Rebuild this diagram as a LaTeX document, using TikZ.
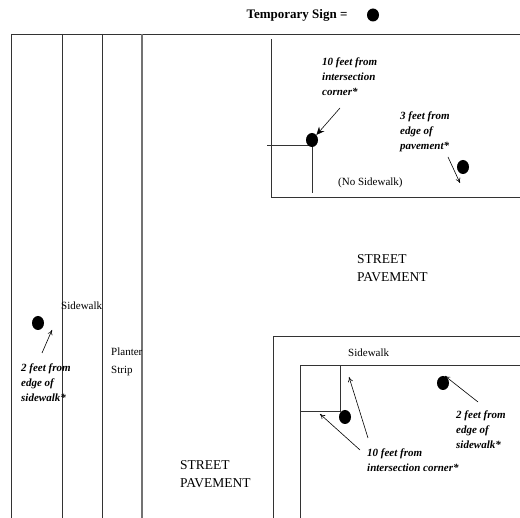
\documentclass[tikz,border=0pt]{standalone}
\usepackage{fontspec}
\setmainfont{Liberation Serif}
\usetikzlibrary{arrows.meta,shapes.geometric}

\begin{document}
\begin{tikzpicture}[x=1pt, y=-1pt,
		edge/.style={line width=0.8pt, color=black!80},
		sign/.style={ellipse, fill=black, inner sep=0pt, minimum width=12pt, minimum height=14pt},
		note/.style={anchor=west, align=left, inner sep=0pt, font=\fontsize{11}{15}\selectfont\bfseries\itshape},
		plain/.style={anchor=west, align=left, inner sep=0pt, font=\fontsize{11}{18}\selectfont},
		street/.style={anchor=west, align=left, inner sep=0pt, font=\fontsize{13.5}{18}\selectfont},
		pointer/.style={line width=0.6pt, -{To[length=5pt,width=5pt]}},
		solidpointer/.style={line width=0.6pt, -{Stealth[length=8pt,width=7pt]}}]
			%%%%% START %%%%%
			\useasboundingbox (0,0) rectangle (520,518);
			
			% legend
			\node[inner sep=0pt, font=\fontsize{13}{15}\selectfont\bfseries] (legend) at (297,15) {Temporary Sign =};
			\node[sign, minimum height=13pt] (legendsign) at (373,15) {};
			
			% left street edge, sidewalk and planter strip
			\draw[edge] (11,34) -- (520,34);
			\draw[edge] (11,34) -- (11,518);
			\draw[edge] (62,34) -- (62,518);
			\draw[edge] (102,34) -- (102,518);
			\draw[line width=1.1pt, color=black!55] (142,34) -- (142,518);
			
			% upper right block (no sidewalk)
			\draw[edge] (271,39) -- (271,197) -- (520,197);
			\draw[edge] (267,145) -- (312,145) -- (312,193);
			
			% lower right block
			\draw[edge] (273,518) -- (273,336) -- (520,336);
			\draw[edge] (300,518) -- (300,365) -- (520,365);
			\draw[edge] (300,411) -- (340,411) -- (340,365);
			
			% signs
			\node[sign] (cornersign) at (312,140) {};
			\node[sign] (pavesign) at (463,167) {};
			\node[sign] (walksign) at (38,323) {};
			\node[sign] (lowcornersign) at (345,417) {};
			\node[sign] (lowwalksign) at (443,383) {};
			
			% texts
			\node[note] (cornernote) at (322,77) {10 feet from\\intersection\\corner*};
			\node[note] (pavenote) at (400,132) {3 feet from\\edge of\\pavement*};
			\node[plain] (nowalk) at (338,183) {(No Sidewalk)};
			\node[street] (streetup) at (357,268) {STREET\\PAVEMENT};
			\node[street] (streetlow) at (180,474) {STREET\\PAVEMENT};
			\node[plain] (walkleft) at (61,306) {Sidewalk};
			\node[plain] (planter) at (111,362) {Planter\\Strip};
			\node[note] (walknote) at (21,383) {2 feet from\\edge of\\sidewalk*};
			\node[plain] (walkright) at (348,353) {Sidewalk};
			\node[note] (lowcornernote) at (367,460) {10 feet from\\intersection corner*};
			\node[note] (lowwalknote) at (456,430) {2 feet from\\edge of\\sidewalk*};
			
			% pointer ends
			\coordinate (ta) at (340,108);
			\coordinate (tb) at (448,157);
			\coordinate (hb) at (460,183);
			\coordinate (tc) at (42,353);
			\coordinate (hc) at (52,330);
			\coordinate (td) at (360,450);
			\coordinate (hd) at (320,414);
			\coordinate (te) at (368,438);
			\coordinate (he) at (349,377);
			\coordinate (tf) at (478,402);
			\coordinate (hf) at (445,376);
			
			\draw[solidpointer] (ta) -- (cornersign);
			\draw[pointer] (tb) -- (hb);
			\draw[pointer] (tc) -- (hc);
			\draw[pointer] (td) -- (hd);
			\draw[pointer] (te) -- (he);
			\draw[pointer] (tf) -- (hf);
			
			%%%%% END %%%%%
\end{tikzpicture}
\end{document}
